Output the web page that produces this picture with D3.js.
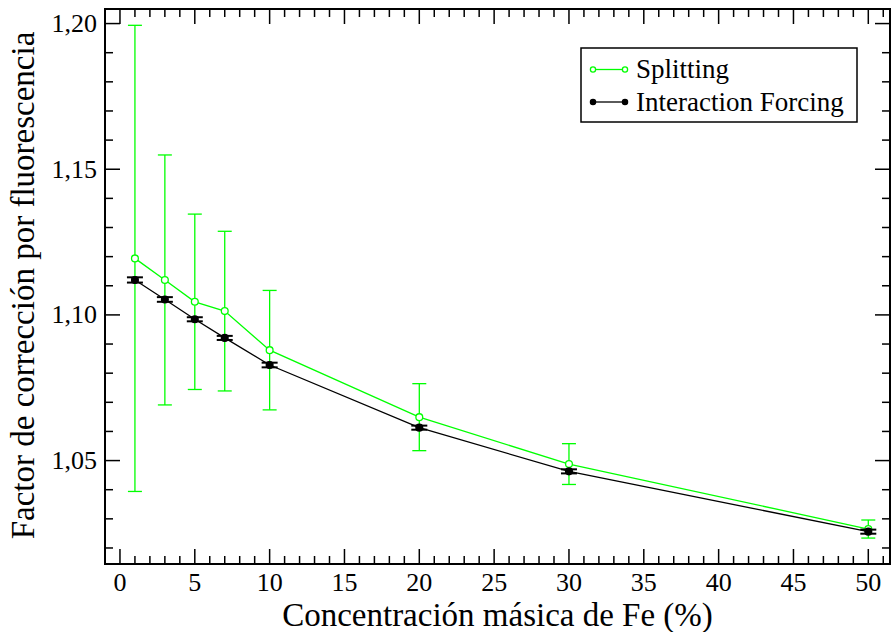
<!DOCTYPE html>
<html>
<head>
<meta charset="utf-8">
<script src="https://cdn.jsdelivr.net/npm/d3@7"></script>
<style>
  body { margin: 0; background: #fff; }
</style>
</head>
<body>
<div id="chart"></div>
<script>
// data
const conc = [1, 3, 5, 7, 10, 20, 30, 50];
const splitVal = [1.1194, 1.1120, 1.1045, 1.1013, 1.0879, 1.0649, 1.0488, 1.0265];
const splitErr = [0.0800, 0.0429, 0.0301, 0.0274, 0.0205, 0.0115, 0.0070, 0.0031];
const forceVal = [1.1120, 1.1053, 1.0985, 1.0921, 1.0828, 1.0613, 1.0463, 1.0256];
const forceErr = [0.0009, 0.0008, 0.0007, 0.0007, 0.0008, 0.0007, 0.0007, 0.0007];
const xMajor = [0, 5, 10, 15, 20, 25, 30, 35, 40, 45, 50];
const yMajor = [1.05, 1.10, 1.15, 1.20];

const width = 891, height = 632;
const margin = { top: 9, right: 1, bottom: 68, left: 105 };
const green = "#00ff00";
const serif = "'Liberation Serif', 'Times New Roman', Times, 'DejaVu Serif', serif";

const svg = d3.select("#chart").append("svg")
  .attr("width", width).attr("height", height)
  .attr("font-family", serif);

const x = d3.scaleLinear().domain([-1, 51.45]).range([margin.left, width - margin.right]);
const y = d3.scaleLinear().domain([1.0145, 1.205]).range([height - margin.bottom, margin.top]);

const loc = d3.formatLocale({ decimal: ",", thousands: ".", grouping: [3], currency: ["", ""] });
const fmtY = loc.format(".2f");

const xMinor = d3.range(0, 52, 1).filter(v => v % 5 !== 0);
const yMinor = d3.range(102, 121, 1).map(v => v / 100).filter(v => Math.round(v * 100) % 5 !== 0);

const x0 = margin.left, x1 = width - margin.right;
const y0 = height - margin.bottom, y1 = margin.top;

// ticks (pointing inward on all four sides)
function ticks(g, cls, vals, len, axis) {
  g.selectAll("line." + cls).data(vals).join("line")
    .attr("class", cls)
    .attr("stroke", "#000").attr("stroke-width", 1.5)
    .attr("x1", d => axis === "b" || axis === "t" ? x(d) : (axis === "l" ? x0 : x1))
    .attr("x2", d => axis === "b" || axis === "t" ? x(d) : (axis === "l" ? x0 + len : x1 - len))
    .attr("y1", d => axis === "l" || axis === "r" ? y(d) : (axis === "b" ? y0 : y1))
    .attr("y2", d => axis === "l" || axis === "r" ? y(d) : (axis === "b" ? y0 - len : y1 + len));
}
["b", "t"].forEach(a => {
  const g = svg.append("g");
  ticks(g, "maj", xMajor, 15, a);
  ticks(g, "min", xMinor, 8, a);
});
["l", "r"].forEach(a => {
  const g = svg.append("g");
  ticks(g, "maj", yMajor, 15, a);
  ticks(g, "min", yMinor, 8, a);
});

// frame
svg.append("rect")
  .attr("x", x0).attr("y", y1).attr("width", x1 - x0).attr("height", y0 - y1)
  .attr("fill", "none").attr("stroke", "#000").attr("stroke-width", 2);

// tick labels
svg.append("g").selectAll("text").data(xMajor).join("text")
  .attr("x", d => x(d)).attr("y", 591)
  .attr("text-anchor", "middle").attr("font-size", 26)
  .text(d => d);
svg.append("g").selectAll("text").data(yMajor).join("text")
  .attr("x", 97).attr("y", d => y(d)).attr("dy", "0.33em")
  .attr("text-anchor", "end").attr("font-size", 26)
  .text(d => fmtY(d));

// axis titles
svg.append("text")
  .attr("x", (x0 + x1) / 2).attr("y", 626)
  .attr("text-anchor", "middle").attr("font-size", 33)
  .text("Concentración másica de Fe (%)");
svg.append("text")
  .attr("transform", "translate(34,285.5) rotate(-90)")
  .attr("text-anchor", "middle").attr("font-size", 33)
  .text("Factor de corrección por fluorescencia");

// series
const series = [
  { name: "Splitting", vals: splitVal, errs: splitErr, color: green, open: true, cap: 7, ew: 1.3 },
  { name: "Interaction Forcing", vals: forceVal, errs: forceErr, color: "#000", open: false, cap: 8, ew: 2 }
];

const line = d3.line().x(d => x(d.x)).y(d => y(d.y));

series.forEach(s => {
  const pts = conc.map((c, i) => ({ x: c, y: s.vals[i], e: s.errs[i] }));
  const g = svg.append("g");
  // error bars
  const eb = g.selectAll("g.err").data(pts).join("g").attr("class", "err")
    .attr("stroke", s.color).attr("stroke-width", s.ew);
  eb.append("line")
    .attr("x1", d => x(d.x)).attr("x2", d => x(d.x))
    .attr("y1", d => y(d.y - d.e)).attr("y2", d => y(d.y + d.e));
  eb.append("line")
    .attr("x1", d => x(d.x) - s.cap).attr("x2", d => x(d.x) + s.cap)
    .attr("y1", d => y(d.y + d.e)).attr("y2", d => y(d.y + d.e));
  eb.append("line")
    .attr("x1", d => x(d.x) - s.cap).attr("x2", d => x(d.x) + s.cap)
    .attr("y1", d => y(d.y - d.e)).attr("y2", d => y(d.y - d.e));
  // line
  g.append("path").datum(pts)
    .attr("d", line).attr("fill", "none")
    .attr("stroke", s.color).attr("stroke-width", 1.3);
  // markers
  g.selectAll("circle").data(pts).join("circle")
    .attr("cx", d => x(d.x)).attr("cy", d => y(d.y)).attr("r", 3.4)
    .attr("fill", s.open ? "#fff" : "#000")
    .attr("stroke", s.color).attr("stroke-width", 1.3);
});

// legend
const lg = svg.append("g");
lg.append("rect")
  .attr("x", 581).attr("y", 48).attr("width", 276).attr("height", 74)
  .attr("fill", "#fff").attr("stroke", "#000").attr("stroke-width", 1.5);
series.forEach((s, i) => {
  const ly = 69.5 + i * 32.5;
  lg.append("line").attr("x1", 593).attr("x2", 625).attr("y1", ly).attr("y2", ly)
    .attr("stroke", s.color).attr("stroke-width", 1.3);
  [593, 625].forEach(cx => lg.append("circle")
    .attr("cx", cx).attr("cy", ly).attr("r", 2.6)
    .attr("fill", s.open ? "#fff" : "#000")
    .attr("stroke", s.color).attr("stroke-width", 1.3));
  lg.append("text").attr("x", 636).attr("y", ly).attr("dy", "0.33em")
    .attr("font-size", 27).text(s.name);
});
</script>
</body>
</html>
